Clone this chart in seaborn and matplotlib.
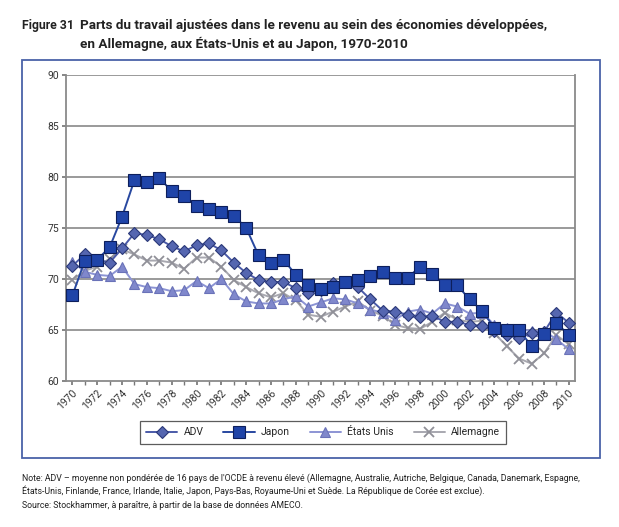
import numpy as np
import pandas as pd
import matplotlib
matplotlib.use("Agg")
import matplotlib.pyplot as plt
import matplotlib.patches as mpatches
import seaborn as sns

# Données (parts du travail ajustées, %)
annees = list(range(1970, 2011))

adv = [71.3, 72.4, 71.9, 71.6, 73.0, 74.5, 74.3, 73.9, 73.2, 72.7,
       73.3, 73.5, 72.8, 71.6, 70.6, 69.9, 69.7, 69.7, 69.1, 68.6,
       68.9, 69.6, 69.7, 69.2, 68.0, 66.9, 66.8, 66.5, 66.3, 66.4,
       65.8, 65.8, 65.5, 65.4, 64.9, 64.5, 64.2, 64.7, 64.8, 66.7,
       65.7]

japon = [68.4, 71.8, 71.9, 73.1, 76.1, 79.7, 79.5, 79.9, 78.6, 78.1,
         77.1, 76.9, 76.6, 76.2, 75.0, 72.3, 71.6, 71.9, 70.4, 69.4,
         69.0, 69.2, 69.7, 69.9, 70.3, 70.7, 70.1, 70.1, 71.2, 70.5,
         69.4, 69.4, 68.0, 66.9, 65.2, 65.0, 65.0, 63.4, 64.6, 65.7,
         64.5]

etats_unis = [71.7, 70.7, 70.4, 70.3, 71.2, 69.5, 69.2, 69.1, 68.8, 68.9,
              69.8, 69.1, 70.0, 68.5, 67.8, 67.6, 67.6, 68.0, 68.3, 67.3,
              67.7, 68.1, 68.0, 67.6, 67.0, 66.7, 66.0, 66.8, 67.0, 66.6,
              67.6, 67.3, 66.6, 66.7, 65.5, 65.2, 65.1, 64.9, 64.9, 64.1,
              63.1]

allemagne = [69.9, 70.8, 71.2, 72.0, 72.9, 72.4, 71.8, 71.8, 71.6, 71.0,
             72.1, 72.1, 71.2, 69.9, 69.2, 68.6, 68.2, 68.6, 67.9, 66.5,
             66.3, 66.8, 67.3, 67.8, 66.9, 66.4, 65.5, 65.2, 65.1, 65.8,
             66.7, 66.0, 65.8, 65.9, 64.7, 63.4, 62.2, 61.7, 62.7, 64.5,
             63.6]

df = pd.DataFrame({"Annee": annees, "ADV": adv, "Japon": japon,
                   "États Unis": etats_unis, "Allemagne": allemagne})

sns.set_theme(style="white")
plt.rcParams['font.family'] = ['Roboto', 'DejaVu Sans']

fig = plt.figure(figsize=(6.19, 5.27), dpi=100)
ax = fig.add_axes([0.107, 0.277, 0.822, 0.581])

# style de chaque série : (marqueur, couleur ligne, remplissage, bord, taille, zorder)
styles = {
    "ADV":        ("D", "#4a5aa8", "#5566b0", "#2a3878", 6.0, 4),
    "Japon":      ("s", "#2848a0", "#1f44a8", "#0d1f5c", 8.0, 5),
    "États Unis": ("^", "#8c94d4", "#8088cc", "#6a72b8", 7.0, 3),
    "Allemagne":  ("x", "#a8a8b0", "#909098", "#909098", 7.0, 2),
}

for nom in ["ADV", "Japon", "États Unis", "Allemagne"]:
    m, lc, fc, ec, ms, z = styles[nom]
    sns.lineplot(data=df, x="Annee", y=nom, ax=ax, color=lc, linewidth=1.4,
                 marker=m, markersize=ms, markerfacecolor=fc,
                 markeredgecolor=ec, markeredgewidth=1.3 if m == "x" else 0.8,
                 label=nom, zorder=z)

ax.set_xlim(1969.5, 2010.5)
ax.set_ylim(60, 90)
ax.set_yticks(range(60, 91, 5))
ax.set_xticks(annees, minor=True)
ax.set_xticks(annees[::2])
ax.set_xticklabels([str(a) for a in annees[::2]], rotation=45, ha='right',
                   rotation_mode='anchor', fontsize=7.5, color='#333333')
ax.tick_params(axis='y', labelsize=7.5, labelcolor='#333333', length=3,
               direction='out', left=True, color='#777777', pad=2)
ax.tick_params(axis='x', which='both', length=3, direction='out',
               bottom=True, color='#777777', pad=2)
ax.set_xlabel("")
ax.set_ylabel("")

for v in range(65, 91, 5):
    ax.axhline(v, color='#7f7f7f', linewidth=1.1, zorder=1)

for side in ['left', 'bottom', 'right']:
    ax.spines[side].set_color('#8a8a8a')
    ax.spines[side].set_linewidth(1.3)
ax.spines['top'].set_visible(False)

leg = ax.legend(loc='center', bbox_to_anchor=(0.505, -0.168), ncol=4,
                frameon=True, fancybox=False, fontsize=7.5, handlelength=3.0,
                columnspacing=1.9, borderpad=0.6, handletextpad=0.6,
                edgecolor='#333333')
leg.get_frame().set_linewidth(0.9)

# cadre bleu autour du graphique
fig.patches.append(mpatches.Rectangle((0.036, 0.131), 0.934, 0.755,
                                      transform=fig.transFigure, fill=False,
                                      edgecolor='#4a62a8', linewidth=1.3))

fig.text(0.036, 0.952, "Figure 31", fontsize=8.8, fontweight='bold',
         color='#222222', va='center')
fig.text(0.13, 0.952,
         "Parts du travail ajustées dans le revenu au sein des économies développées,",
         fontsize=9.7, fontweight='bold', color='#222222', va='center')
fig.text(0.13, 0.917, "en Allemagne, aux États-Unis et au Japon, 1970-2010",
         fontsize=9.7, fontweight='bold', color='#222222', va='center')

fig.text(0.036, 0.093,
         "Note: ADV – moyenne non pondérée de 16 pays de l'OCDE à revenu élevé (Allemagne, Australie, Autriche, Belgique, Canada, Danemark, Espagne,",
         fontsize=6.35, color='#222222', va='center')
fig.text(0.036, 0.068,
         "États-Unis, Finlande, France, Irlande, Italie, Japon, Pays-Bas, Royaume-Uni et Suède. La République de Corée est exclue).",
         fontsize=6.35, color='#222222', va='center')
fig.text(0.036, 0.041,
         "Source: Stockhammer, à paraître, à partir de la base de données AMECO.",
         fontsize=6.35, color='#222222', va='center')

fig.savefig("out.png", dpi=100)
